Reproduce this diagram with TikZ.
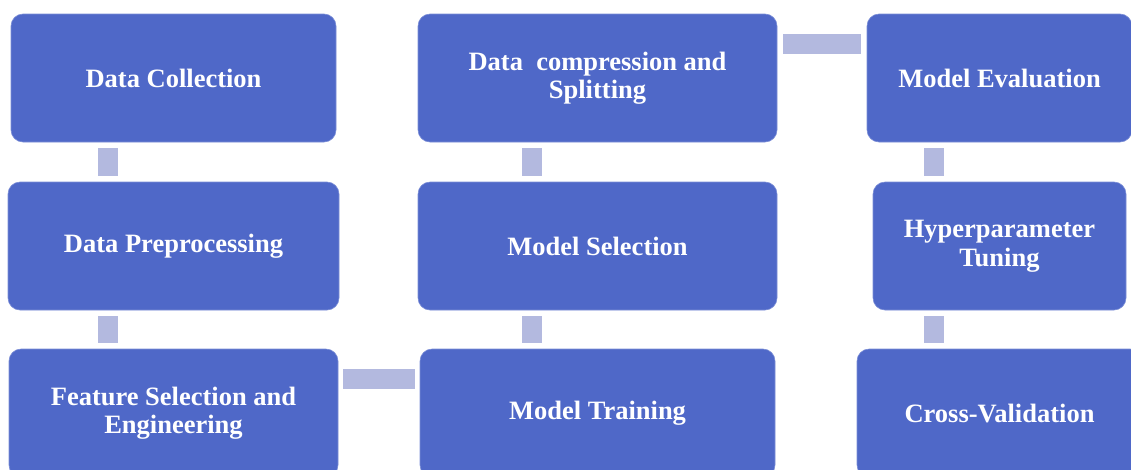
\documentclass[tikz,border=0pt]{standalone}
\usepackage{fontspec}
\setmainfont{Liberation Serif}
\usepackage{tikz}
\usetikzlibrary{positioning}

\definecolor{boxblue}{HTML}{4F68C8}
\definecolor{linkblue}{HTML}{B3B9DF}

\tikzset{
  stage/.style={fill=boxblue, draw=boxblue!75!white, line width=0.6pt,
    rounded corners=12pt, minimum height=128pt, inner sep=0pt,
    align=center, text=white,
    font=\fontsize{26.5}{28.5}\selectfont\bfseries},
  link/.style={draw=linkblue, line width=20pt, line cap=butt},
}

\begin{document}
\begin{tikzpicture}[x=1pt, y=-1pt]
  \useasboundingbox (0,0) rectangle (1131,469);
  \clip (0,0) rectangle (1131,469);

  % --- 左の列 ---
  \node[stage, minimum width=325pt] (collect) at (173.5,78) {Data Collection};
  \node[stage, minimum width=331pt] (prep) at (173.5,246) {Data Preprocessing};
  \node[stage, minimum width=329pt] (feat) at (173.5,413) {Feature Selection and\\Engineering};

  % --- 中央の列 ---
  \node[stage, minimum width=359pt] (split) at (597.5,78) {Data\ \ compression and\\Splitting};
  \node[stage, minimum width=359pt] (select) at (597.5,246) {Model Selection};
  \node[stage, minimum width=355pt] (train) at (597.5,413) {Model Training};

  % --- 右の列 ---
  \node[stage, minimum width=265pt] (eval) at (999.5,78) {Model Evaluation};
  \node[stage, minimum width=253pt] (tune) at (999.5,246) {Hyperparameter\\Tuning};
  \node[stage, minimum width=285pt] (cv) at (999.5,413) {Cross-Validation};

  % --- つなぎ ---
  \draw[link] ([xshift=-65.5pt,yshift=-6pt]collect.south) -- ([xshift=-65.5pt,yshift=6pt]prep.north);
  \draw[link] ([xshift=-65.5pt,yshift=-6pt]prep.south) -- ([xshift=-65.5pt,yshift=6pt]feat.north);
  \draw[link] ([xshift=5pt,yshift=34pt]feat.east) -- ([xshift=-5pt,yshift=34pt]train.west);
  \draw[link] ([xshift=-65.5pt,yshift=6pt]train.north) -- ([xshift=-65.5pt,yshift=-6pt]select.south);
  \draw[link] ([xshift=-65.5pt,yshift=6pt]select.north) -- ([xshift=-65.5pt,yshift=-6pt]split.south);
  \draw[link] ([xshift=6pt,yshift=34pt]split.east) -- ([xshift=-6pt,yshift=34pt]eval.west);
  \draw[link] ([xshift=-66pt,yshift=-6pt]eval.south) -- ([xshift=-66pt,yshift=6pt]tune.north);
  \draw[link] ([xshift=-66pt,yshift=-6pt]tune.south) -- ([xshift=-66pt,yshift=6pt]cv.north);
\end{tikzpicture}
\end{document}
